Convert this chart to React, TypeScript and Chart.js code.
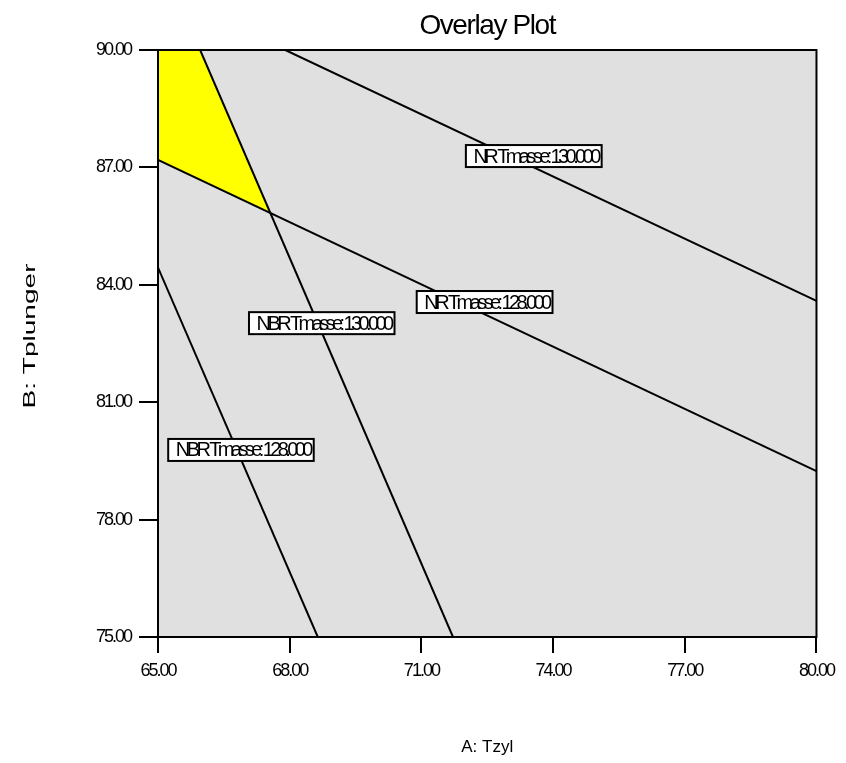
import React, { useEffect, useRef } from 'react';
import { Chart, registerables } from 'chart.js';

Chart.register(...registerables);

const FONT = '"Liberation Sans", Arial, sans-serif';

const chartTitle = 'Overlay Plot';
const xAxisTitle = 'A: Tzyl';
const yAxisTitle = 'B: Tplunger';

const xTicks = [65, 68, 71, 74, 77, 80];
const yTicks = [75, 78, 81, 84, 87, 90];

const nrTmasse130 = [{ x: 67.9, y: 90 }, { x: 80, y: 83.59 }];
const nrTmasse128 = [{ x: 65, y: 87.19 }, { x: 80, y: 79.24 }];
const nbrTmasse130 = [{ x: 65.96, y: 90 }, { x: 71.72, y: 75 }];
const nbrTmasse128 = [{ x: 65, y: 84.44 }, { x: 68.64, y: 75 }];
const overlayRegion = [
  { x: 65, y: 90 },
  { x: 65.96, y: 90 },
  { x: 67.55, y: 85.84 },
  { x: 65, y: 87.19 },
  { x: 65, y: 90 },
];

const contourLabels = ['NR Tmasse: 130.000', 'NR Tmasse: 128.000', 'NBR Tmasse: 130.000', 'NBR Tmasse: 128.000'];
const labelX = [73.56, 72.44, 68.73, 66.89];
const labelY = [87.29, 83.56, 83.02, 79.78];

const decorPlugin = {
  id: 'decor',
  beforeDraw(chart: any) {
    const { ctx, chartArea } = chart;
    ctx.save();
    ctx.fillStyle = '#ffffff';
    ctx.fillRect(0, 0, chart.width, chart.height);
    ctx.fillStyle = '#E0E0E0';
    ctx.fillRect(chartArea.left, chartArea.top, chartArea.right - chartArea.left, chartArea.bottom - chartArea.top);
    ctx.restore();
    ctx.letterSpacing = '-2px';
  },
  afterDatasetsDraw(chart: any) {
    const { ctx, chartArea } = chart;
    ctx.save();
    ctx.strokeStyle = '#000';
    ctx.lineWidth = 2;
    ctx.strokeRect(chartArea.left, chartArea.top, chartArea.right - chartArea.left, chartArea.bottom - chartArea.top);
    ctx.restore();
  },
  afterDraw(chart: any) {
    const { ctx, chartArea } = chart;
    const xs = chart.scales.x;
    const ys = chart.scales.y;
    ctx.save();
    // contour labels
    ctx.font = `20px ${FONT}`;
    ctx.letterSpacing = '-3.6px';
    ctx.textAlign = 'center';
    ctx.textBaseline = 'middle';
    contourLabels.forEach((t, i) => {
      const px = xs.getPixelForValue(labelX[i]);
      const py = ys.getPixelForValue(labelY[i]);
      const w = ctx.measureText(t).width + 3.6;
      const bw = w + 8;
      const bh = 22;
      ctx.fillStyle = '#fff';
      ctx.fillRect(px - bw / 2, py - bh / 2, bw, bh);
      ctx.strokeStyle = '#000';
      ctx.lineWidth = 2;
      ctx.strokeRect(px - bw / 2, py - bh / 2, bw, bh);
      ctx.fillStyle = '#000';
      ctx.fillText(t, px + 1.8, py + 1);
    });
    // title
    ctx.letterSpacing = '-1.4px';
    ctx.font = `28px ${FONT}`;
    ctx.textBaseline = 'alphabetic';
    ctx.fillText(chartTitle, (chartArea.left + chartArea.right) / 2, 34);
    // x title
    ctx.letterSpacing = '0px';
    ctx.font = `17px ${FONT}`;
    ctx.fillText(xAxisTitle, (chartArea.left + chartArea.right) / 2, 752);
    // y title
    ctx.translate(35, 336);
    ctx.rotate(-Math.PI / 2);
    ctx.scale(1.65, 1);
    ctx.fillText(yAxisTitle, 0, 0);
    ctx.restore();
  },
};

export default function App() {
  const ref = useRef<HTMLCanvasElement | null>(null);
  useEffect(() => {
    document.body.style.margin = '0';
    const canvas = ref.current!;
    const lineDs = (data: any[]) => ({
      data,
      showLine: true,
      borderColor: '#000',
      borderWidth: 2,
      pointRadius: 0,
      fill: false,
      order: 1,
    });
    const chart = new Chart(canvas, {
      type: 'scatter',
      data: {
        datasets: [
          lineDs(nrTmasse130),
          lineDs(nrTmasse128),
          lineDs(nbrTmasse130),
          lineDs(nbrTmasse128),
          {
            data: overlayRegion,
            showLine: true,
            borderWidth: 0,
            borderColor: 'rgba(0,0,0,0)',
            backgroundColor: '#FFFF00',
            pointRadius: 0,
            fill: 'shape',
            order: 10,
          } as any,
        ],
      },
      options: {
        responsive: false,
        animation: false,
        events: [],
        layout: { padding: { top: 50, right: 29, left: 0, bottom: 0 } },
        plugins: { legend: { display: false }, tooltip: { enabled: false }, title: { display: false } },
        scales: {
          x: {
            type: 'linear',
            min: 65,
            max: 80,
            afterBuildTicks: (s: any) => { s.ticks = xTicks.map((v) => ({ value: v })); },
            afterFit: (s: any) => { s.height = 126; },
            ticks: {
              color: '#000',
              font: { family: FONT, size: 18 },
              padding: 7,
              maxRotation: 0,
              callback: (v: any) => Number(v).toFixed(2),
            },
            grid: { drawOnChartArea: false, drawTicks: true, tickLength: 16, color: '#000', lineWidth: 2 },
            border: { display: true, color: '#000', width: 2 },
          },
          y: {
            type: 'linear',
            min: 75,
            max: 90,
            afterBuildTicks: (s: any) => { s.ticks = yTicks.map((v) => ({ value: v })); },
            afterFit: (s: any) => { s.width = 158; },
            ticks: {
              color: '#000',
              font: { family: FONT, size: 18 },
              padding: 8,
              callback: (v: any) => Number(v).toFixed(2),
            },
            grid: { drawOnChartArea: false, drawTicks: true, tickLength: 19, color: '#000', lineWidth: 2 },
            border: { display: true, color: '#000', width: 2 },
          },
        },
      } as any,
      plugins: [decorPlugin],
    });
    return () => chart.destroy();
  }, []);
  return <canvas ref={ref} width={846} height={763} style={{ display: 'block', width: 846, height: 763 }} />;
}
